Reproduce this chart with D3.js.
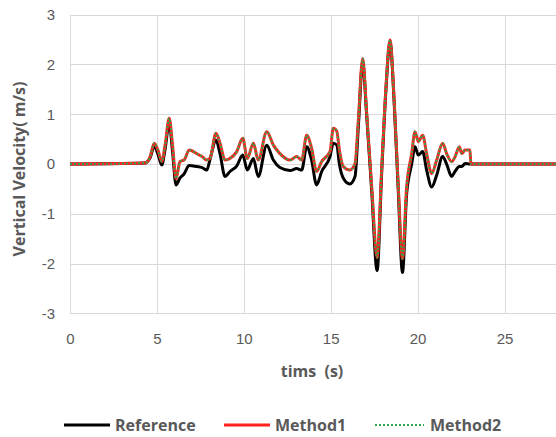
<!DOCTYPE html>
<html>
<head>
<meta charset="utf-8">
<script src="https://cdn.jsdelivr.net/npm/d3@7"></script>
<style>
  body { margin: 0; background: #fff; }
  svg { display: block; font-family: "Open Sans", sans-serif; }
  .grid line { stroke: #d9d9d9; stroke-width: 1; }
  .tick text { fill: #595959; font-size: 15px; }
  .title { fill: #595959; font-size: 16px; font-weight: bold; }
  .legend text { fill: #595959; font-size: 16px; font-weight: bold; }
</style>
</head>
<body>
<svg width="556" height="437"></svg>
<script>
// time (s)
var times = [0, 4.3, 4.6, 4.85, 5.06, 5.28, 5.47, 5.71, 5.9, 6.1, 6.33, 6.56, 6.86, 7.29, 7.6, 7.87,
  8.06, 8.4, 8.63, 8.92, 9.2, 9.59, 9.94, 10.2, 10.55, 10.83, 11.32, 11.7, 12.08, 12.66, 13.04, 13.33,
  13.62, 13.9, 14.19, 14.48, 14.96, 15.15, 15.35, 15.5, 15.72, 16.1, 16.4, 16.59, 16.84, 17.07, 17.36,
  17.67, 17.93, 18.18, 18.41, 18.66, 18.89, 19.13, 19.37, 19.66, 19.85, 20.04, 20.29, 20.52, 20.81,
  21.1, 21.44, 21.67, 21.96, 22.15, 22.4, 22.54, 22.73, 23.01, 23.07, 30];

var reference = [0, 0.02, 0.12, 0.36, 0.2, -0.02, 0.3, 0.82, 0.25, -0.42, -0.28, -0.2, -0.03, -0.05, -0.07, -0.12,
  0.1, 0.48, 0.21, -0.25, -0.15, -0.04, 0.18, -0.12, 0.11, -0.25, 0.38, 0.08, -0.07, -0.13, -0.09, -0.12,
  0.35, 0.08, -0.42, -0.15, 0.15, 0.42, 0.38, 0.0, -0.28, -0.4, -0.25, 0.75, 2.04, 0.98, -0.55,
  -2.14, -0.2, 1.5, 2.45, 1.18, -0.55, -2.18, -0.6, 0.0, 0.35, 0.18, 0.25, -0.12, -0.46,
  -0.22, 0.15, 0.0, -0.25, -0.15, -0.05, -0.05, 0.01, 0.0, 0.0, 0];

var method1 = [0, 0.02, 0.14, 0.42, 0.28, 0.05, 0.38, 0.92, 0.38, -0.29, 0.05, 0.08, 0.28, 0.21, 0.15, 0.08,
  0.12, 0.62, 0.42, 0.08, 0.11, 0.25, 0.52, 0.11, 0.42, 0.08, 0.65, 0.38, 0.21, 0.08, 0.15, 0.08,
  0.58, 0.32, -0.15, 0.05, 0.25, 0.72, 0.66, 0.28, -0.05, -0.12, 0.01, 0.88, 2.12, 1.02, -0.46,
  -1.88, -0.12, 1.55, 2.49, 1.22, -0.46, -1.9, -0.46, 0.21, 0.65, 0.45, 0.58, 0.21, -0.19,
  0.08, 0.42, 0.21, 0.05, 0.14, 0.35, 0.21, 0.28, 0.28, 0.0, 0];

var method2 = [0, 0.02, 0.14, 0.42, 0.28, 0.05, 0.38, 0.92, 0.38, -0.29, 0.05, 0.08, 0.28, 0.21, 0.15, 0.08,
  0.12, 0.62, 0.42, 0.08, 0.11, 0.25, 0.52, 0.11, 0.42, 0.08, 0.65, 0.38, 0.21, 0.08, 0.15, 0.08,
  0.58, 0.32, -0.15, 0.05, 0.25, 0.72, 0.66, 0.28, -0.05, -0.12, 0.01, 0.88, 2.12, 1.02, -0.46,
  -1.88, -0.12, 1.55, 2.49, 1.22, -0.46, -1.9, -0.46, 0.21, 0.65, 0.45, 0.58, 0.21, -0.19,
  0.08, 0.42, 0.21, 0.05, 0.14, 0.35, 0.21, 0.28, 0.28, 0.0, 0];

var xTicks = [0, 5, 10, 15, 20, 25];
var yTicks = [-3, -2, -1, 0, 1, 2, 3];
var seriesNames = ["Reference", "Method1", "Method2"];

var svg = d3.select("svg");

//scales
var x = d3.scaleLinear().domain([0, 30]).range([70, 591.4]);
var y = d3.scaleLinear().domain([-3, 3]).range([313.4, 14.7]);

//gridlines
var grid = svg.append("g").attr("class", "grid");
grid.selectAll(".hline")
    .data(yTicks)
    .enter()
    .append("line")
    .attr("x1", x(0))
    .attr("x2", x(30))
    .attr("y1", function (d) { return Math.round(y(d)) + 0.5; })
    .attr("y2", function (d) { return Math.round(y(d)) + 0.5; });
grid.selectAll(".vline")
    .data(xTicks)
    .enter()
    .append("line")
    .attr("x1", function (d) { return Math.round(x(d)) + 0.5; })
    .attr("x2", function (d) { return Math.round(x(d)) + 0.5; })
    .attr("y1", y(3))
    .attr("y2", y(-3));

//axes (labels only), plain hyphen for negatives like the original
var plain = function (d) { return String(d); };

var xAxis = svg.append("g")
    .attr("transform", "translate(0," + y(-3) + ")")
    .call(d3.axisBottom(x).tickValues(xTicks).tickFormat(plain).tickSize(0).tickPadding(20));
xAxis.select(".domain").remove();

var yAxis = svg.append("g")
    .attr("transform", "translate(" + x(0) + ",0)")
    .call(d3.axisLeft(y).tickValues(yTicks).tickFormat(plain).tickSize(0).tickPadding(15));
yAxis.select(".domain").remove();

//lines
var pts = times.map(function (t, i) { return i; });
function lineFor(values) {
    return d3.line()
        .x(function (i) { return x(times[i]); })
        .y(function (i) { return y(values[i]); })
        .curve(d3.curveMonotoneX);
}

svg.append("path")
    .datum(pts)
    .attr("d", lineFor(reference))
    .attr("fill", "none")
    .attr("stroke", "#000")
    .attr("stroke-width", 3)
    .attr("stroke-linejoin", "round");

svg.append("path")
    .datum(pts)
    .attr("d", lineFor(method1))
    .attr("fill", "none")
    .attr("stroke", "#ff2020")
    .attr("stroke-width", 3)
    .attr("stroke-linejoin", "round");

svg.append("path")
    .datum(pts)
    .attr("d", lineFor(method2))
    .attr("fill", "none")
    .attr("stroke", "#2ea84f")
    .attr("stroke-width", 2)
    .attr("stroke-dasharray", "2,2");

//axis titles
svg.append("text")
    .attr("class", "title")
    .attr("text-anchor", "middle")
    .attr("transform", "translate(25,169) rotate(-90)")
    .text("Vertical Velocity( m/s)");

svg.append("text")
    .attr("class", "title")
    .attr("text-anchor", "middle")
    .attr("x", 312)
    .attr("y", 377)
    .text("tims  (s)")
    .style("white-space", "pre");

//legend
var legendX = [64, 224, 375];
var legend = svg.append("g").attr("class", "legend");
var item = legend.selectAll(".item")
    .data(seriesNames)
    .enter()
    .append("g")
    .attr("transform", function (d, i) { return "translate(" + legendX[i] + ",425)"; });

item.append("line")
    .attr("x1", 0)
    .attr("x2", function (d, i) { return i == 2 ? 49 : 46; })
    .attr("stroke", function (d, i) { return ["#000", "#ff2020", "#2ea84f"][i]; })
    .attr("stroke-width", function (d, i) { return i == 2 ? 2 : 3; })
    .attr("stroke-dasharray", function (d, i) { return i == 2 ? "2,2" : null; });

item.append("text")
    .attr("x", function (d, i) { return i == 2 ? 55 : 51; })
    .attr("dy", "0.35em")
    .text(function (d) { return d; });
</script>
</body>
</html>
